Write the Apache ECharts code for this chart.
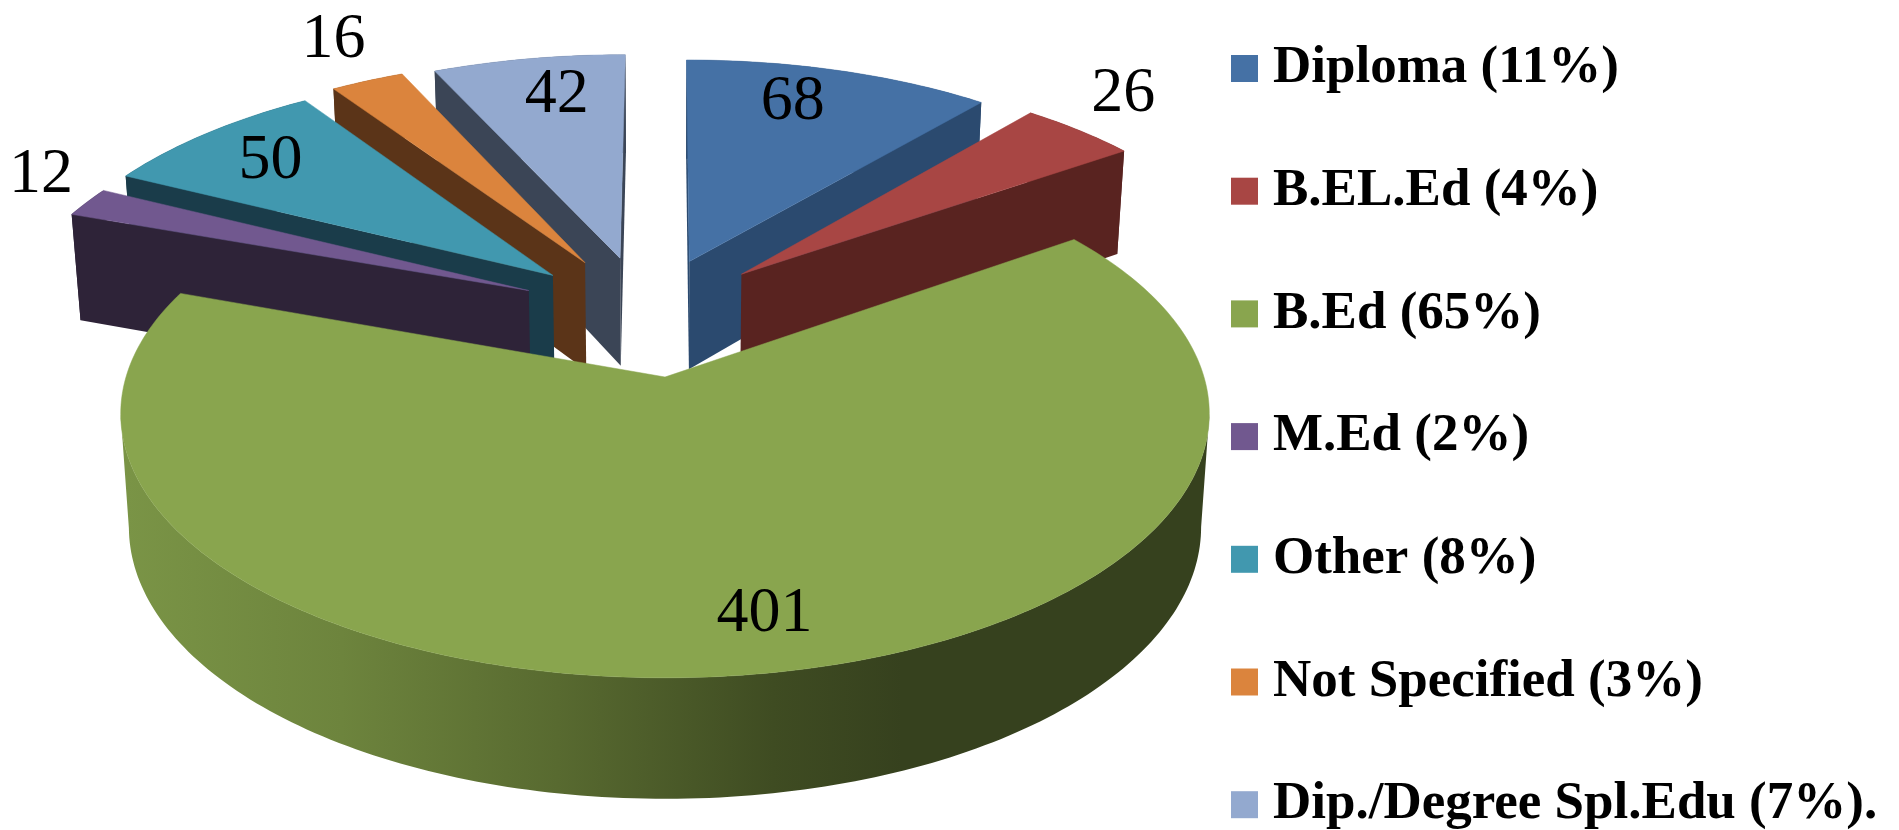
<!DOCTYPE html>
<html>
<head>
<meta charset="utf-8">
<title>Qualification pie</title>
<script src="https://cdn.jsdelivr.net/npm/echarts@6/dist/echarts.min.js"></script>
<style>
  html, body { margin: 0; background: #fff; }
  #chart { width: 1899px; height: 830px; }
</style>
</head>
<body>
<div id="chart"></div>
<script>
// data
const categories = ['Diploma', 'B.EL.Ed', 'B.Ed', 'M.Ed', 'Other', 'Not Specified', 'Dip./Degree Spl.Edu']
const values = [68, 26, 401, 12, 50, 16, 42]
const legendLabels = ['Diploma (11%)', 'B.EL.Ed (4%)', 'B.Ed (65%)', 'M.Ed (2%)', 'Other (8%)', 'Not Specified (3%)', 'Dip./Degree Spl.Edu (7%).']

// slice styling
const topColors = ['#4571a5', '#a84644', '#89a54e', '#71588f', '#4198af', '#db843d', '#93a9cf']
const wallColors = ['#2b4a6f', '#592320', '#36411e', '#2e2338', '#1a3c4a', '#5b3418', '#3b4556']
const explodeX = [0.048, 0.15, 0, -0.265, -0.22, -0.158, -0.089]
const explodeY = [0.475, 0.42, 0, 0.35, 0.415, 0.47, 0.49]
const sliceRadius = [1, 1, 1, 1, 1.01, 1.02, 1.015]
const labelRadius = [0.82, 1.225, 0.82, 1.17, 0.81, 1.26, 0.81]
const labelTurn = [-3.9, -3.5, -3.7, 4.05, 0, 1.5, 1.6]
const drawOrder = [6, 5, 4, 3, 0, 1, 2] // back to front

// fake 3d camera, fitted to the picture
const cam = { cx: 665, cy: 377, rx: 539, ry: 259, persp: 0.139, dropBase: 112, dropSlope: 9, bottomShrink: 0.985 }
const total = values.reduce((a, b) => a + b, 0)

function project(x, y) {
  const s = 1 / (1 + cam.persp * y)
  return [cam.cx + cam.rx * x * s, cam.cy - cam.ry * y * s]
}
function topPoint(i, r, deg) {
  const a = (deg * Math.PI) / 180
  const x = r * sliceRadius[i] * Math.sin(a) + explodeX[i]
  const y = r * sliceRadius[i] * Math.cos(a) + explodeY[i]
  return { x, y, p: project(x, y) }
}
function dropPoint(pt) {
  const [sx, sy] = pt.p
  return [cam.cx + (sx - cam.cx) * cam.bottomShrink, sy + cam.dropBase - cam.dropSlope * pt.y]
}
function cross(a, b, c) {
  return (b[0] - a[0]) * (c[1] - a[1]) - (b[1] - a[1]) * (c[0] - a[0])
}
function extremeIndex(points, sign) {
  let best = 0
  points.forEach((p, k) => {
    if (sign * p[0] > sign * points[best][0]) best = k
  })
  return best
}

function renderSlice(i, startDeg, endDeg) {
  const apex = topPoint(i, 0, 0)
  const arc = []
  const steps = Math.max(2, Math.ceil(endDeg - startDeg))
  for (let k = 0; k <= steps; k++) {
    arc.push(topPoint(i, 1, startDeg + ((endDeg - startDeg) * k) / steps))
  }
  const midDeg = (startDeg + endDeg) / 2
  const inner = topPoint(i, 0.5, midDeg).p
  const fill = topColors[i]
  const wall = wallColors[i]
  const children = []

  // outer rim; the big slice is cut at its side extremes so the silhouette closes
  let topEdge = arc.map((d) => d.p)
  let bottomEdge = arc.map(dropPoint)
  const isBig = values[i] / total > 0.5
  if (isBig) {
    topEdge = topEdge.slice(extremeIndex(topEdge, 1), extremeIndex(topEdge, -1) + 1)
    bottomEdge = bottomEdge.slice(extremeIndex(bottomEdge, 1), extremeIndex(bottomEdge, -1) + 1)
  }
  const rimFill = isBig
    ? {
        type: 'linear',
        global: true,
        x: cam.cx - cam.rx,
        y: 0,
        x2: cam.cx + cam.rx,
        y2: 0,
        colorStops: [
          { offset: 0, color: '#7a9446' },
          { offset: 0.2, color: '#6d843d' },
          { offset: 0.4, color: '#586a30' },
          { offset: 0.6, color: '#3f4c22' },
          { offset: 0.72, color: wall },
          { offset: 1, color: wall },
        ],
      }
    : wall
  children.push({
    type: 'polygon',
    shape: { points: topEdge.concat(bottomEdge.reverse()) },
    style: { fill: rimFill },
  })

  // cut faces, only the ones turned to the viewer
  ;[arc[0], arc[arc.length - 1]].forEach((edge) => {
    const a = apex.p
    const b = edge.p
    const down = dropPoint(apex)
    if (cross(a, b, inner) * cross(a, b, down) < 0) {
      children.push({
        type: 'polygon',
        shape: { points: [a, b, dropPoint(edge), down] },
        style: { fill: wall },
      })
    }
  })

  // top face
  children.push({
    type: 'polygon',
    shape: { points: [apex.p].concat(arc.map((d) => d.p)) },
    style: { fill, stroke: fill, lineWidth: 0.5 },
  })

  const lp = topPoint(i, labelRadius[i], midDeg + labelTurn[i]).p
  children.push({
    type: 'text',
    x: lp[0] + 2,
    y: lp[1] + 3,
    z2: 10,
    style: {
      text: String(values[i]),
      font: '64px "Liberation Serif"',
      fill: '#000',
      align: 'center',
      verticalAlign: 'middle',
    },
  })
  return { type: 'group', children }
}

// cumulative angles, clockwise from 12 o'clock
const startAngles = []
values.reduce((acc, v, i) => {
  startAngles[i] = (acc / total) * 360
  return acc + v
}, 0)

const series = drawOrder.map((i, rank) => ({
  type: 'custom',
  name: legendLabels[i],
  coordinateSystem: 'none',
  z: 2 + rank,
  silent: true,
  itemStyle: { color: topColors[i] },
  data: [{ name: categories[i], value: [values[i]] }],
  renderItem: () => renderSlice(i, startAngles[i], startAngles[i] + (values[i] / total) * 360),
}))

const chart = echarts.init(document.getElementById('chart'), undefined, { renderer: 'canvas' })
chart.setOption({
  animation: false,
  backgroundColor: '#fff',
  legend: {
    data: legendLabels,
    orient: 'vertical',
    left: 1231,
    top: 31,
    height: 1000,
    padding: 0,
    icon: 'rect',
    itemWidth: 27,
    itemHeight: 27,
    itemGap: 47.7,
    selectedMode: false,
    textStyle: {
      fontFamily: 'Liberation Serif',
      fontWeight: 'bold',
      fontSize: 53,
      lineHeight: 60,
      color: '#000',
      padding: [15, 0, 0, 10],
    },
  },
  series,
})
</script>
</body>
</html>
